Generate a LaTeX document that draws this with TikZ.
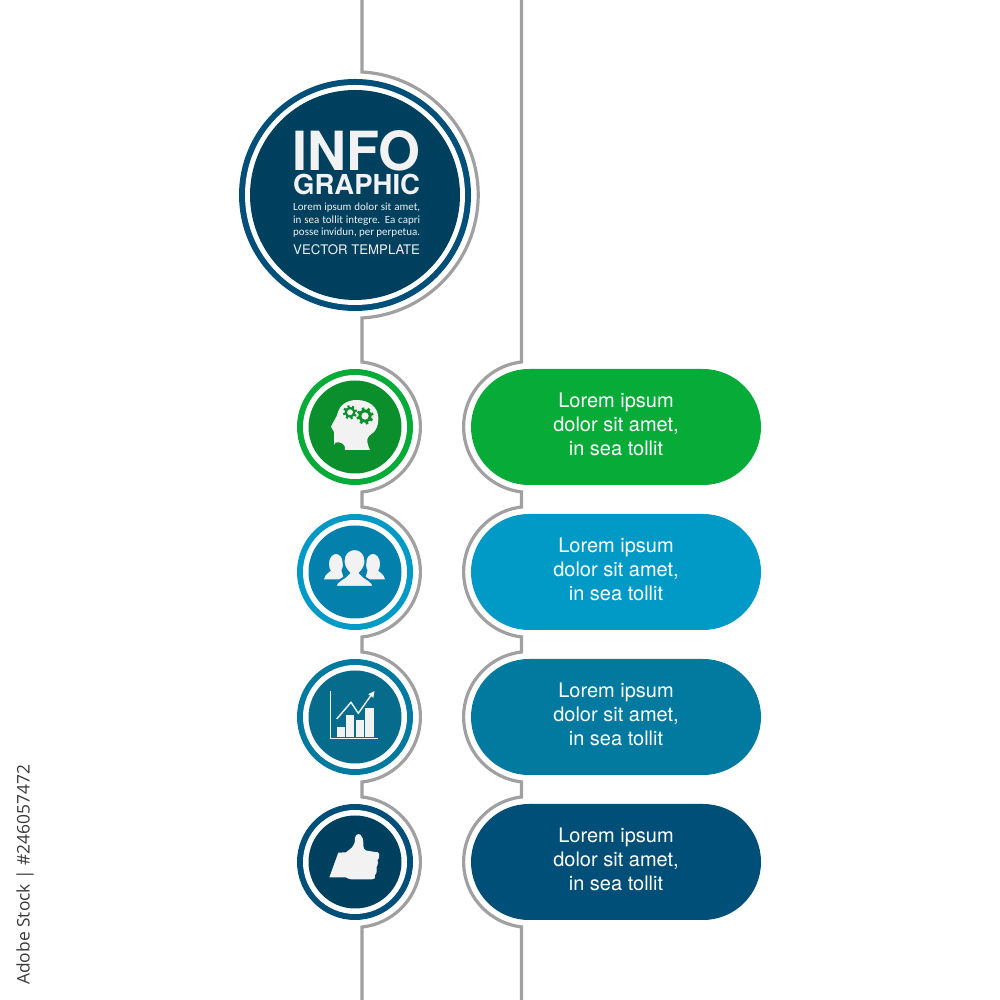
\documentclass[tikz,border=0pt]{standalone}
\usepackage{fontspec}
\setmainfont{TeX Gyre Heros}
\newfontfamily\smallfont{Carlito}
\newfontfamily\stockfont{Open Sans}
\definecolor{lightfg}{HTML}{F2F2F2}
\definecolor{greyline}{HTML}{A0A0A0}
\definecolor{stockgrey}{HTML}{3A3A3A}
\definecolor{pillA}{HTML}{07AB38}
\definecolor{diskA}{HTML}{0B8F2C}
\definecolor{pillB}{HTML}{019AC6}
\definecolor{diskB}{HTML}{0380AB}
\definecolor{pillC}{HTML}{027A9F}
\definecolor{diskC}{HTML}{076B8C}
\definecolor{pillD}{HTML}{004F78}
\definecolor{diskD}{HTML}{00405F}
\tikzset{
  disc/.style={circle,inner sep=0pt,minimum size=#1,outer sep=0pt},
  pill/.style={rectangle,rounded corners=58pt,minimum width=290pt,minimum height=116pt,inner sep=0pt},
  pilltext/.style={inner sep=0pt,text=white,align=center,font=\fontsize{20}{24}\selectfont},
  rail/.style={draw=greyline,line width=3.2pt,line join=miter},
  icon/.style={fill=lightfg,draw=none},
  titleline/.style={anchor=base west,inner sep=0pt,text=lightfg},
}
\newcommand\gearicon[4]{% x,y,radius,colour
  \foreach \a in {0,45,...,315}{
    \fill[#4,rotate around={\a+15:(#1,#2)}] (#1-#3*0.2,#2) rectangle (#1+#3*0.2,#2+#3*1.3);
  }
  \fill[#4] (#1,#2) circle (#3);
  \fill[lightfg] (#1,#2) circle (#3*0.55);
}
\begin{document}
\begin{tikzpicture}[x=1pt,y=1pt]
\useasboundingbox (0,0) rectangle (1000,1000);
\fill[white] (0,0) rectangle (1000,1000);

% grey rails
\draw[rail] (362,1000) -- (362,928) arc[start angle=86.74,end angle=-86.74,radius=123.2]
  -- (362,638) arc[start angle=83.85,end angle=-83.85,radius=65.4]
  -- (362,493) arc[start angle=83.85,end angle=-83.85,radius=65.4]
  -- (362,348) arc[start angle=83.85,end angle=-83.85,radius=65.4]
  -- (362,203) arc[start angle=83.85,end angle=-83.85,radius=65.4]
  -- (362,0);
\draw[rail] (521.5,1000) -- (521.5,638) arc[start angle=96.6,end angle=263.4,radius=65.4]
  -- (521.5,493) arc[start angle=96.6,end angle=263.4,radius=65.4]
  -- (521.5,348) arc[start angle=96.6,end angle=263.4,radius=65.4]
  -- (521.5,203) arc[start angle=96.6,end angle=263.4,radius=65.4]
  -- (521.5,0);

% title circle
\node[disc=232pt,fill=pillD] (titlering) at (355,805) {};
\node[disc=220pt,fill=white] (titlegap) at (355,805) {};
\node[disc=210pt,fill=diskD] (titledisk) at (355,805) {};
\node[titleline,font=\bfseries\fontsize{54}{54}\selectfont] (info) at (292,829.5) {INFO};
\node[titleline,font=\bfseries\fontsize{27.5}{28}\selectfont] (graphic) at (293,805) {GRAPHIC};
\node[titleline,font=\smallfont\fontsize{11}{12}\selectfont] (l1) at (293,789.3) {\makebox[127pt][s]{Lorem ipsum dolor sit amet,}};
\node[titleline,font=\smallfont\fontsize{11}{12}\selectfont] (l2) at (293,776.8) {\makebox[127pt][s]{in sea tollit integre. Ea capri}};
\node[titleline,font=\smallfont\fontsize{11}{12}\selectfont] (l3) at (293,764.3) {\makebox[127pt][s]{posse invidun, per perpetua.}};
\node[titleline,font=\fontsize{13.2}{14}\selectfont] (vt) at (293,745) {VECTOR TEMPLATE};

% rows
\foreach \n/\y/\p/\d in {a/573/pillA/diskA,b/428/pillB/diskB,c/283/pillC/diskC,d/138/pillD/diskD}{
  \node[disc=116pt,fill=\p] (ring\n) at (355,\y) {};
  \node[disc=104pt,fill=white] (gap\n) at (355,\y) {};
  \node[disc=93pt,fill=\d] (disk\n) at (355,\y) {};
  \node[pill,fill=\p] (pill\n) at (616,\y) {};
  \node[pilltext] (text\n) at ([yshift=3pt]pill\n.center) {Lorem ipsum\\dolor sit amet,\\in sea tollit};
}

% head with gears
\fill[icon] (331,573.3) .. controls (333,578) and (337,583) .. (338,588)
  .. controls (340,595) and (347,600) .. (356.7,600)
  .. controls (370,600) and (378.3,592) .. (378.3,581.7)
  .. controls (378.3,575) and (377,572) .. (374,568)
  .. controls (370,565) and (367.3,563) .. (367.3,560)
  .. controls (367.3,556) and (368.5,553) .. (370,550)
  -- (345,550) .. controls (345.5,552) and (345,555) .. (343,556)
  .. controls (341,557.5) and (337,558.5) .. (335,557)
  .. controls (333.5,555) and (334.5,552) .. (334,560)
  .. controls (333.5,563) and (334.5,566) .. (334,568)
  .. controls (333.5,570) and (331.5,571) .. (331,573.3) -- cycle;
\gearicon{350}{587.7}{5.4}{diskA}
\gearicon{365}{584}{6.6}{diskA}

% people
\foreach \sx/\sgn in {336/1,373/-1}{
  \fill[icon] (\sx,436) ellipse (7 and 10);
  \fill[icon] (\sx-12*\sgn,420.7) .. controls (\sx-11*\sgn,426) and (\sx-6*\sgn,428) .. (\sx-3*\sgn,431)
     -- (\sx+5*\sgn,431) -- (\sx+8*\sgn,420.7) -- cycle;
}
\path[icon,draw=diskB,line width=2pt] (335,413) .. controls (336,420) and (345,421) .. (349,427)
  .. controls (345,431) and (343.5,435) .. (343.5,439)
  .. controls (343.5,446) and (348,451) .. (354.5,451)
  .. controls (361,451) and (365.5,446) .. (365.5,439)
  .. controls (365.5,435) and (364,431) .. (360,427)
  .. controls (364,421) and (373,420) .. (374,413) -- cycle;

% chart
\draw[draw=lightfg,line width=1.4pt] (330.7,309) -- (330.7,261.5) -- (378.3,261.5);
\fill[icon] (336.7,262.5) rectangle (345,272.7);
\fill[icon] (346,262.5) rectangle (354.3,285);
\fill[icon] (355.7,262.5) rectangle (364,280);
\fill[icon] (365.3,262.5) rectangle (373.7,291.7);
\draw[draw=lightfg,line width=1.4pt] (336.7,281) -- (351,297.7) -- (358.3,286.7) -- (372,306);
\fill[icon] (374.5,309) -- (373.3,302.2) -- (368.3,305.8) -- cycle;

% thumb
\fill[icon] (329.3,122.5) -- (346,122.5) -- (348,121.5) -- (351,120.7) -- (372,120.7)
  .. controls (375,120.7) and (375.5,122) .. (375,125)
  .. controls (377,126) and (377,131) .. (376.5,133)
  .. controls (378,134) and (378,139) .. (377.5,140)
  .. controls (379.5,141) and (379.5,146) .. (379,146.5)
  .. controls (378.5,148) and (377,148) .. (375,148)
  -- (366,149.5) .. controls (364,150) and (363.5,152) .. (363.3,156)
  .. controls (363.3,160) and (363,163) .. (360.5,165.2)
  .. controls (358,167) and (355.5,165) .. (355,162)
  .. controls (355,158) and (354.5,155) .. (352,152.5)
  -- (346,147.7) -- (338.3,147.3) -- cycle;

% sidebar
\node[inner sep=0pt,anchor=base west,rotate=90,text=stockgrey,font=\stockfont\fontsize{17.4}{18}\selectfont] (stock) at (29.5,15) {Adobe Stock | \#246057472};
\end{tikzpicture}
\end{document}
